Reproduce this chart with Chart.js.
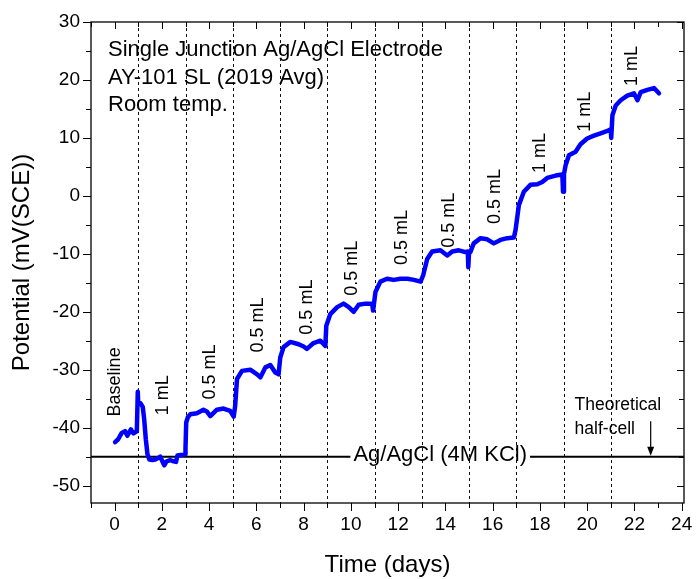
<!DOCTYPE html>
<html>
<head>
<meta charset="utf-8">
<script src="https://cdn.jsdelivr.net/npm/chart.js@4.4.1/dist/chart.umd.min.js"></script>
<style>
  html, body { margin: 0; padding: 0; background: #fff; }
  canvas { display: block; }
</style>
</head>
<body>
<canvas id="c" width="696" height="579"></canvas>
<script>
// Electrode potential record (days vs mV relative to SCE)
const timeDays = [
  0.02, 0.15, 0.30, 0.44, 0.54, 0.69, 0.80, 0.94,
  0.98, 1.00, 1.10, 1.19, 1.25, 1.32, 1.39, 1.47, 1.60, 1.72, 1.85, 1.93,
  2.02, 2.10, 2.20, 2.35, 2.50, 2.60, 2.66, 2.80, 2.99,
  3.00, 3.03, 3.10, 3.20, 3.48, 3.76, 3.90, 4.05, 4.33, 4.61, 4.89, 5.04,
  5.10, 5.18, 5.39, 5.74, 6.03, 6.17, 6.38, 6.59, 6.80, 6.94,
  7.01, 7.15, 7.44, 7.79, 8.00, 8.14, 8.42, 8.71, 8.92,
  8.96, 9.13, 9.42, 9.69, 9.91, 10.12, 10.33, 10.61, 10.90, 10.94,
  11.04, 11.25, 11.53, 11.81, 12.10, 12.39, 12.67, 12.95,
  13.06, 13.23, 13.44, 13.79, 14.08, 14.29, 14.57, 14.85, 14.95, 14.97, 15.00,
  15.06, 15.20, 15.49, 15.77, 16.05, 16.33, 16.62, 16.90,
  16.97, 17.11, 17.32, 17.60, 17.89, 18.10, 18.31, 18.67, 18.95, 18.98, 19.02,
  19.09, 19.23, 19.51, 19.72, 20.00, 20.29, 20.57, 20.86, 21.00, 21.02,
  21.07, 21.21, 21.42, 21.70, 21.98, 22.13, 22.27, 22.55, 22.83, 23.04
];
const potentialMv = [
  -42.5, -42.0, -40.9, -40.6, -41.4, -40.3, -41.0, -40.6,
  -33.8, -36.0, -35.8, -36.4, -38.5, -42.0, -44.6, -45.5, -45.6, -45.5, -45.2, -45.0,
  -45.8, -46.5, -45.8, -45.6, -45.8, -45.9, -44.8, -44.7, -44.6,
  -43.5, -39.1, -38.2, -37.7, -37.5, -36.9, -37.2, -38.0, -36.9, -36.7, -37.1, -38.1,
  -36.3, -31.6, -30.2, -30.0, -30.8, -31.3, -29.6, -29.2, -30.5, -30.8,
  -27.9, -26.1, -25.2, -25.6, -26.0, -26.4, -25.4, -25.0, -25.9,
  -22.4, -20.4, -19.2, -18.6, -19.2, -20.0, -18.8, -18.6, -18.6, -19.8,
  -16.6, -14.8, -14.3, -14.5, -14.3, -14.3, -14.5, -14.8,
  -13.7, -10.9, -9.6, -9.4, -10.3, -9.6, -9.4, -9.7, -9.6, -12.3, -9.9,
  -9.7, -8.2, -7.3, -7.5, -8.2, -7.6, -7.3, -7.2,
  -5.9, -1.6, 0.7, 1.9, 2.0, 2.4, 3.1, 3.5, 3.7, 0.7, 3.8,
  5.3, 7.0, 7.6, 8.9, 9.9, 10.4, 10.8, 11.2, 11.5, 10.0,
  13.9, 15.6, 16.5, 17.3, 17.7, 16.5, 17.9, 18.3, 18.6, 17.7
];

// Days on which a KCl addition was made
const injectionDays = [1, 3, 5, 7, 9, 11, 13, 15, 17, 19, 21];

// Addition annotations and where they sit (day, mV)
const additionLabels = ['Baseline', '1 mL', '0.5 mL', '0.5 mL', '0.5 mL', '0.5 mL',
  '0.5 mL', '0.5 mL', '0.5 mL', '1 mL', '1 mL', '1 mL'];
const labelDays = [0.02, 2.07, 4.02, 6.09, 8.14, 10.05, 12.17, 14.14, 16.12, 18.0, 19.9, 21.9];
const labelPotentials = [-32.1, -34.4, -30.4, -22.3, -19.2, -12.5, -7.2, -4.2, -0.1, 7.4, 14.5, 22.4];

// Theoretical Ag/AgCl (4M KCl) half-cell potential vs SCE
const referenceLevel = -45;
const referenceLabel = 'Ag/AgCl (4M KCl)';
const referenceLabelDay = 13.78;
const arrowDay = 22.69;
const arrowTopMv = -38.9;
const theoryNote = ['Theoretical', 'half-cell'];
const theoryNoteDay = 19.47;
const theoryNoteMv = [-36.1, -40.3];

const infoLines = ['Single Junction Ag/AgCl Electrode', 'AY-101 SL (2019 Avg)', 'Room temp.'];

// Axis ticks
const xTickValues = [0, 2, 4, 6, 8, 10, 12, 14, 16, 18, 20, 22, 24];
const xMinorValues = [-1, 1, 3, 5, 7, 9, 11, 13, 15, 17, 19, 21, 23];
const yTickValues = [-50, -40, -30, -20, -10, 0, 10, 20, 30];
const yMinorValues = [-45, -35, -25, -15, -5, 5, 15, 25];

const FONT = "'Liberation Sans', Arial, Helvetica, sans-serif";
Chart.defaults.font.family = FONT;
Chart.defaults.color = '#000';

const decor = {
  id: 'decor',
  beforeDatasetsDraw(chart) {
    const { ctx, chartArea: a, scales: { x, y } } = chart;
    ctx.save();
    // dashed markers at each addition
    ctx.strokeStyle = '#111';
    ctx.lineWidth = 1;
    ctx.setLineDash([3, 3]);
    injectionDays.forEach(d => {
      const px = Math.round(x.getPixelForValue(d)) + 0.5;
      ctx.beginPath();
      ctx.moveTo(px, a.top);
      ctx.lineTo(px, a.bottom);
      ctx.stroke();
    });
    ctx.setLineDash([]);

    // reference half-cell line with inline label
    const ry = y.getPixelForValue(referenceLevel);
    ctx.font = '22px ' + FONT;
    const tw = ctx.measureText(referenceLabel).width;
    const cx = x.getPixelForValue(referenceLabelDay);
    ctx.strokeStyle = '#000';
    ctx.lineWidth = 2;
    ctx.beginPath();
    ctx.moveTo(a.left, ry);
    ctx.lineTo(cx - tw / 2 - 3, ry);
    ctx.moveTo(cx + tw / 2 + 3, ry);
    ctx.lineTo(a.right, ry);
    ctx.stroke();
    ctx.fillStyle = '#000';
    ctx.textAlign = 'center';
    ctx.textBaseline = 'middle';
    ctx.fillText(referenceLabel, cx, ry - 2);

    // arrow to the theoretical value
    const ax = x.getPixelForValue(arrowDay);
    const at = y.getPixelForValue(arrowTopMv);
    ctx.lineWidth = 1.2;
    ctx.beginPath();
    ctx.moveTo(ax, at);
    ctx.lineTo(ax, ry - 8);
    ctx.stroke();
    ctx.beginPath();
    ctx.moveTo(ax - 3.5, ry - 10);
    ctx.lineTo(ax + 3.5, ry - 10);
    ctx.lineTo(ax, ry - 1);
    ctx.closePath();
    ctx.fill();

    ctx.font = '17.5px ' + FONT;
    ctx.textAlign = 'left';
    theoryNote.forEach((t, i) => {
      ctx.fillText(t, x.getPixelForValue(theoryNoteDay), y.getPixelForValue(theoryNoteMv[i]));
    });

    // addition labels, rotated
    ctx.font = '18px ' + FONT;
    ctx.textAlign = 'center';
    additionLabels.forEach((t, i) => {
      ctx.save();
      ctx.translate(x.getPixelForValue(labelDays[i]), y.getPixelForValue(labelPotentials[i]));
      ctx.rotate(-Math.PI / 2);
      ctx.fillText(t, 0, 0);
      ctx.restore();
    });

    // info block
    ctx.font = '22px ' + FONT;
    ctx.textAlign = 'left';
    infoLines.forEach((t, i) => ctx.fillText(t, 108, 50 + i * 27.7));
    ctx.restore();
  },
  afterDraw(chart) {
    const { ctx, chartArea: a, scales: { x, y } } = chart;
    ctx.save();
    ctx.strokeStyle = '#000';
    ctx.lineWidth = 1.3;
    ctx.strokeRect(a.left, a.top, a.right - a.left, a.bottom - a.top);
    ctx.lineWidth = 1;
    const tick = (x1, y1, x2, y2) => { ctx.beginPath(); ctx.moveTo(x1, y1); ctx.lineTo(x2, y2); ctx.stroke(); };
    xTickValues.forEach(v => {
      const px = Math.round(x.getPixelForValue(v)) + 0.5;
      tick(px, a.bottom, px, a.bottom + 8);
      tick(px, a.top, px, a.top + 7);
    });
    xMinorValues.forEach(v => {
      const px = Math.round(x.getPixelForValue(v)) + 0.5;
      tick(px, a.bottom, px, a.bottom + 5);
      tick(px, a.top, px, a.top + 5);
    });
    yTickValues.forEach(v => {
      const py = Math.round(y.getPixelForValue(v)) + 0.5;
      tick(a.left - 8, py, a.left, py);
      tick(a.right - 7, py, a.right, py);
    });
    yMinorValues.forEach(v => {
      const py = Math.round(y.getPixelForValue(v)) + 0.5;
      tick(a.left - 5, py, a.left, py);
      tick(a.right - 5, py, a.right, py);
    });

    // axis titles
    ctx.fillStyle = '#000';
    ctx.font = '24px ' + FONT;
    ctx.textAlign = 'center';
    ctx.textBaseline = 'middle';
    ctx.fillText('Time (days)', (a.left + a.right) / 2, 565);
    ctx.save();
    ctx.translate(22, (a.top + a.bottom) / 2);
    ctx.rotate(-Math.PI / 2);
    ctx.fillText('Potential (mV(SCE))', 0, 0);
    ctx.restore();
    ctx.restore();
  }
};

new Chart(document.getElementById('c'), {
  type: 'scatter',
  data: {
    datasets: [{
      data: timeDays.map((d, i) => ({ x: d, y: potentialMv[i] })),
      showLine: true,
      borderColor: '#0000ff',
      backgroundColor: '#0000ff',
      borderWidth: 4.5,
      borderJoinStyle: 'round',
      borderCapStyle: 'round',
      pointRadius: 0,
      tension: 0
    }]
  },
  options: {
    responsive: false,
    animation: false,
    layout: { padding: { left: 0, right: 12, top: 22, bottom: 0 } },
    plugins: { legend: { display: false }, tooltip: { enabled: false } },
    scales: {
      x: {
        type: 'linear', min: -1, max: 24.1,
        afterBuildTicks: s => { s.ticks = xTickValues.map(v => ({ value: v })); },
        afterFit: s => { s.height = 76; s.paddingLeft = 0; s.paddingRight = 0; },
        grid: { display: false, drawTicks: false },
        border: { display: false },
        ticks: { font: { size: 19 }, padding: 10, maxRotation: 0, autoSkip: false }
      },
      y: {
        type: 'linear', min: -53, max: 30,
        afterBuildTicks: s => { s.ticks = yTickValues.map(v => ({ value: v })); },
        afterFit: s => { s.width = 91; s.paddingTop = 0; s.paddingBottom = 0; },
        grid: { display: false, drawTicks: false },
        border: { display: false },
        ticks: { font: { size: 19 }, padding: 11, autoSkip: false }
      }
    }
  },
  plugins: [decor]
});
</script>
</body>
</html>
